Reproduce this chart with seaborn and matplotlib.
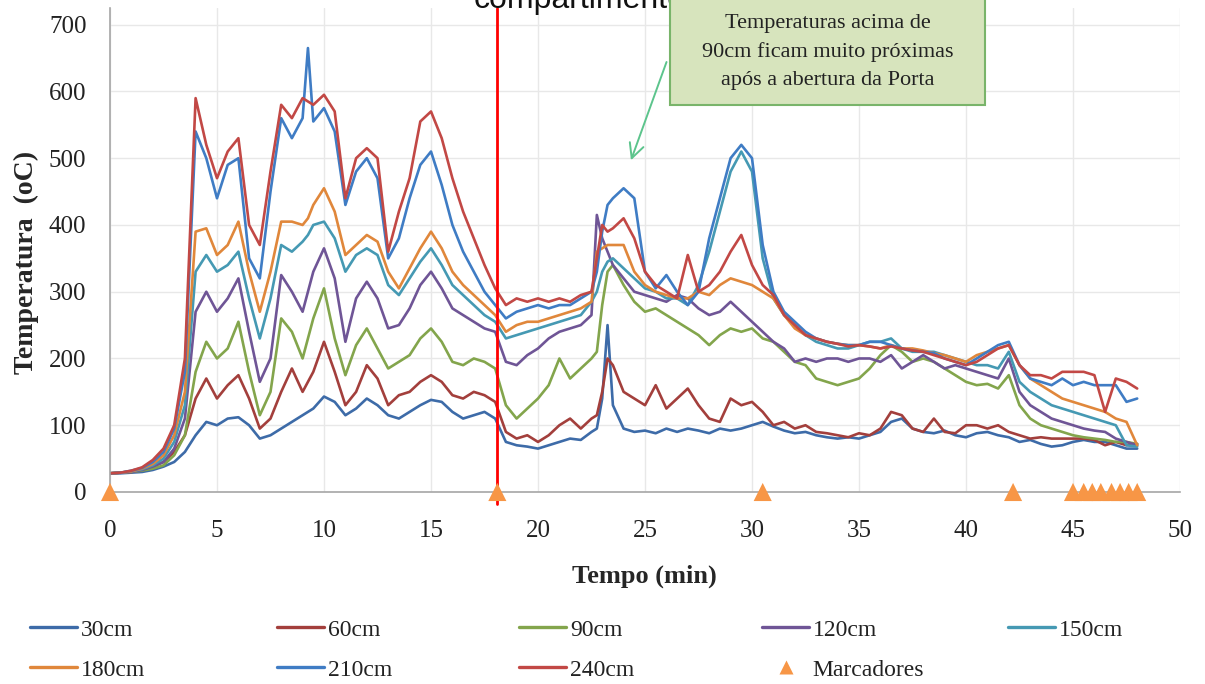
import numpy as np
import pandas as pd
import matplotlib
matplotlib.use("Agg")
import matplotlib.pyplot as plt
import seaborn as sns
from matplotlib.lines import Line2D
from matplotlib.patches import Rectangle

# ---------------- data ----------------
tempo = [0, 0.5, 1, 1.5, 2, 2.5, 3, 3.5, 4, 4.5,
         5, 5.5, 6, 6.5, 7, 7.5, 8, 8.5, 9, 9.25, 9.5,
         10, 10.5, 11, 11.5, 12, 12.5, 13, 13.5, 14, 14.5,
         15, 15.5, 16, 16.5, 17, 17.5, 18, 18.5, 19, 19.5,
         20, 20.5, 21, 21.5, 22, 22.5, 22.75, 23, 23.25, 23.5, 24,
         24.5, 25, 25.5, 26, 26.5, 27, 27.5, 28, 28.5, 29,
         29.5, 30, 30.5, 31, 31.5, 32, 32.5, 33, 33.5, 34,
         34.5, 35, 35.5, 36, 36.5, 37, 37.5, 38, 38.5, 39,
         39.5, 40, 40.5, 41, 41.5, 42, 42.5, 43, 43.5, 44,
         44.5, 45, 45.5, 46, 46.5, 47, 47.5, 48]

t30 = [28, 28, 29, 30, 33, 38, 45, 60, 85, 105,
       100, 110, 112, 100, 80, 85, 95, 105, 115, 120, 125,
       143, 135, 115, 125, 140, 130, 115, 110, 120, 130,
       138, 135, 120, 110, 115, 120, 110, 75, 70, 68,
       65, 70, 75, 80, 78, 90, 95, 140, 250, 130, 95,
       90, 92, 88, 95, 90, 95, 92, 88, 95, 92,
       95, 100, 105, 98, 92, 88, 90, 85, 82, 80,
       82, 80, 85, 90, 105, 110, 95, 90, 88, 92,
       85, 82, 88, 90, 85, 82, 75, 78, 72, 68,
       70, 75, 78, 75, 75, 70, 65, 65]

t60 = [28, 29, 30, 33, 38, 45, 60, 85, 140, 170,
       140, 160, 175, 140, 95, 110, 150, 185, 150, 165, 180,
       225, 180, 130, 150, 190, 170, 130, 145, 150, 165,
       175, 165, 145, 140, 150, 145, 135, 90, 80, 85,
       75, 85, 100, 110, 95, 110, 115, 150, 200, 190, 150,
       140, 130, 160, 125, 140, 155, 130, 110, 105, 140,
       130, 135, 120, 100, 105, 95, 100, 90, 88, 85,
       82, 88, 85, 95, 120, 115, 95, 90, 110, 90,
       88, 100, 100, 95, 100, 90, 85, 80, 82, 80,
       80, 80, 80, 78, 70, 75, 70, 72]

t90 = [28, 29, 30, 32, 35, 40, 55, 85, 180, 225,
       200, 215, 255, 180, 115, 150, 260, 240, 200, 230, 260,
       305, 230, 175, 220, 245, 215, 185, 195, 205, 230,
       245, 225, 195, 190, 200, 195, 185, 130, 110, 125,
       140, 160, 200, 170, 185, 200, 210, 280, 330, 340, 310,
       285, 270, 275, 265, 255, 245, 235, 220, 235, 245,
       240, 245, 230, 225, 210, 195, 190, 170, 165, 160,
       165, 170, 185, 205, 220, 210, 195, 200, 195, 185,
       175, 165, 160, 162, 155, 175, 130, 110, 100, 95,
       90, 85, 82, 80, 78, 75, 75, 72]

t120 = [28, 29, 30, 33, 38, 45, 65, 110, 270, 300,
        270, 290, 320, 240, 165, 200, 325, 300, 270, 300, 330,
        365, 320, 225, 290, 315, 290, 245, 250, 275, 310,
        330, 305, 275, 265, 255, 245, 240, 195, 190, 205,
        215, 230, 240, 245, 250, 265, 415, 380, 360, 340, 320,
        300, 295, 290, 285, 295, 290, 275, 265, 270, 285,
        270, 255, 240, 225, 215, 195, 200, 195, 200, 200,
        195, 200, 200, 195, 205, 185, 195, 205, 195, 185,
        190, 185, 180, 175, 170, 200, 150, 130, 120, 110,
        105, 100, 95, 92, 90, 80, 75, 70]

t150 = [28, 29, 31, 34, 40, 50, 75, 130, 330, 355,
        330, 340, 360, 290, 230, 290, 370, 360, 375, 385, 400,
        405, 380, 330, 355, 365, 355, 310, 295, 320, 345,
        365, 340, 310, 295, 280, 265, 255, 230, 235, 240,
        245, 250, 255, 260, 265, 285, 300, 330, 345, 350, 335,
        320, 305, 300, 290, 290, 280, 310, 360, 420, 480,
        510, 480, 350, 290, 265, 250, 235, 225, 220, 215,
        215, 220, 225, 225, 230, 215, 210, 210, 210, 205,
        200, 195, 190, 190, 185, 210, 165, 150, 140, 130,
        125, 120, 115, 110, 105, 100, 70, 68]

t180 = [28, 29, 31, 35, 42, 55, 85, 150, 390, 395,
        355, 370, 405, 330, 270, 330, 405, 405, 400, 410, 430,
        455, 420, 355, 370, 385, 375, 330, 305, 335, 365,
        390, 365, 330, 310, 295, 280, 265, 240, 250, 255,
        255, 260, 265, 270, 275, 285, 360, 365, 370, 370, 370,
        330, 310, 300, 295, 290, 290, 300, 295, 310, 320,
        315, 310, 300, 290, 265, 245, 235, 230, 225, 222,
        220, 220, 218, 215, 220, 215, 215, 212, 208, 205,
        200, 195, 205, 210, 215, 220, 190, 170, 160, 150,
        140, 135, 130, 125, 120, 110, 105, 70]

t210 = [28, 29, 32, 36, 45, 60, 95, 180, 540, 500,
        440, 490, 500, 350, 320, 450, 560, 530, 560, 665, 555,
        575, 540, 430, 480, 500, 470, 350, 380, 440, 490,
        510, 460, 400, 360, 330, 300, 280, 260, 270, 275,
        280, 275, 280, 280, 290, 300, 330, 390, 430, 440, 455,
        440, 330, 305, 325, 300, 280, 300, 380, 440, 500,
        520, 500, 370, 300, 270, 255, 240, 230, 225, 222,
        220, 220, 225, 225, 220, 215, 212, 210, 208, 200,
        195, 190, 200, 210, 220, 225, 190, 170, 165, 160,
        170, 160, 165, 160, 160, 160, 135, 140]

t240 = [28, 29, 32, 37, 48, 65, 100, 200, 590, 520,
        470, 510, 530, 400, 370, 480, 580, 560, 590, 585, 580,
        595, 570, 440, 500, 515, 500, 360, 420, 470, 555,
        570, 530, 470, 420, 380, 340, 305, 280, 290, 285,
        290, 285, 290, 285, 295, 300, 350, 400, 390, 395, 410,
        380, 330, 310, 300, 290, 355, 300, 310, 330, 360,
        385, 340, 310, 295, 265, 250, 235, 230, 225, 222,
        218, 220, 218, 215, 218, 215, 212, 210, 205, 200,
        195, 190, 195, 205, 215, 220, 190, 175, 175, 170,
        180, 180, 180, 175, 120, 170, 165, 155]

series_names = ["30cm", "60cm", "90cm", "120cm", "150cm", "180cm", "210cm", "240cm"]
series_values = [t30, t60, t90, t120, t150, t180, t210, t240]

marcadores_t = [0, 18.1, 30.5, 42.2, 45.0, 45.5, 45.9, 46.3, 46.8, 47.2, 47.6, 48.0]
marcadores_y = [0] * len(marcadores_t)

porta_t = 18.1

x_ticks = [0, 5, 10, 15, 20, 25, 30, 35, 40, 45, 50]
y_ticks = [0, 100, 200, 300, 400, 500, 600, 700]

# ---------------- style ----------------
colors = ["#3D6BA8", "#A33F3C", "#83A54C", "#6F5596", "#4599B3",
          "#E0873B", "#3F7CC4", "#C24845"]
marker_color = "#F79646"

sns.set_style("white")
plt.rcParams["font.family"] = ["Liberation Serif", "DejaVu Serif"]

frames = []
for name, vals in zip(series_names, series_values):
    assert len(vals) == len(tempo), name
    frames.append(pd.DataFrame({"Tempo": tempo, "Temp": vals, "Altura": name}))
df = pd.concat(frames, ignore_index=True)

fig = plt.figure(figsize=(12.05, 6.84), dpi=100)
ax = fig.add_axes([110 / 1205, 1 - 492 / 684, 1070 / 1205, 484 / 684])

sns.lineplot(data=df, x="Tempo", y="Temp", hue="Altura", hue_order=series_names,
             palette=colors, linewidth=1.9, estimator=None, sort=False,
             legend=False, ax=ax)

sns.scatterplot(x=marcadores_t, y=marcadores_y, marker="^", s=170,
                color=marker_color, edgecolor="none", clip_on=False,
                zorder=6, ax=ax)

ax.axvline(porta_t, ymin=-0.025, ymax=1, color="#FF0000", lw=2.0,
           zorder=5, clip_on=False)

ax.set_xlim(0, 50)
ax.set_ylim(0, 725)
ax.set_xticks(x_ticks)
ax.set_yticks(y_ticks)
ax.tick_params(axis="both", length=0, labelsize=18, colors="#222222")
ax.tick_params(axis="x", pad=20)
ax.tick_params(axis="y", pad=17)
ax.grid(True, color="#E8E8E8", lw=1.0)
ax.set_axisbelow(True)
for s in ["top", "right"]:
    ax.spines[s].set_visible(False)
for s in ["left", "bottom"]:
    ax.spines[s].set_color("#A6A6A6")
    ax.spines[s].set_linewidth(1.2)

ax.set_xlabel("Tempo (min)", fontsize=19, fontweight="bold")
ax.xaxis.set_label_coords((644 - 110) / 1070, -(565 - 492) / 484)
ax.set_ylabel("Temperatura  (oC)", fontsize=20, fontweight="bold", va="center")
ax.yaxis.set_label_coords((26 - 110) / 1070, (492 - 262) / 484)

# cut-off title at top (as in the reference)
fig.text(580 / 1205, 1 - 8 / 684, "compartimento", ha="center", va="baseline",
         fontsize=23, family=["Liberation Sans", "DejaVu Sans"], color="#111111")

# annotation box
box = Rectangle((670 / 1205, 1 - 105 / 684), 315 / 1205, 110 / 684,
                transform=fig.transFigure, facecolor="#D7E4BD",
                edgecolor="#79B46A", lw=1.5, zorder=10)
fig.add_artist(box)
fig.text(828 / 1205, 1 - 52 / 684,
         "Temperaturas acima de\n90cm ficam muito próximas\napós a abertura da Porta",
         ha="center", va="center", fontsize=16, linespacing=1.65,
         color="#222222", zorder=11)
ax.annotate("", xy=(24.3, 493), xytext=(26.05, 648),
            arrowprops=dict(arrowstyle="->", color="#5CC48C", lw=1.4,
                            mutation_scale=26), annotation_clip=False, zorder=9)

# legend, Excel-like fixed columns
col_x = [30, 277, 519, 762, 1008]
handles = [Line2D([], [], color=c, lw=2.4) for c in colors]
marker_handle = Line2D([], [], marker="^", color=marker_color, ls="none",
                       markersize=10, markeredgecolor="none")
cols = [
    ([handles[0], handles[5]], [series_names[0], series_names[5]]),
    ([handles[1], handles[6]], [series_names[1], series_names[6]]),
    ([handles[2], handles[7]], [series_names[2], series_names[7]]),
    ([handles[3], marker_handle], [series_names[3], "Marcadores"]),
    ([handles[4]], [series_names[4]]),
]
for x, (h, l) in zip(col_x, cols):
    leg = fig.legend(h, l, loc="upper left", bbox_to_anchor=(x / 1205, 1 - 619 / 684),
                     frameon=False, fontsize=17, handlelength=2.0,
                     handletextpad=0.15, borderpad=0, borderaxespad=0,
                     labelspacing=0.79)
    for t in leg.get_texts():
        t.set_color("#222222")

fig.savefig("out.png", dpi=100)
